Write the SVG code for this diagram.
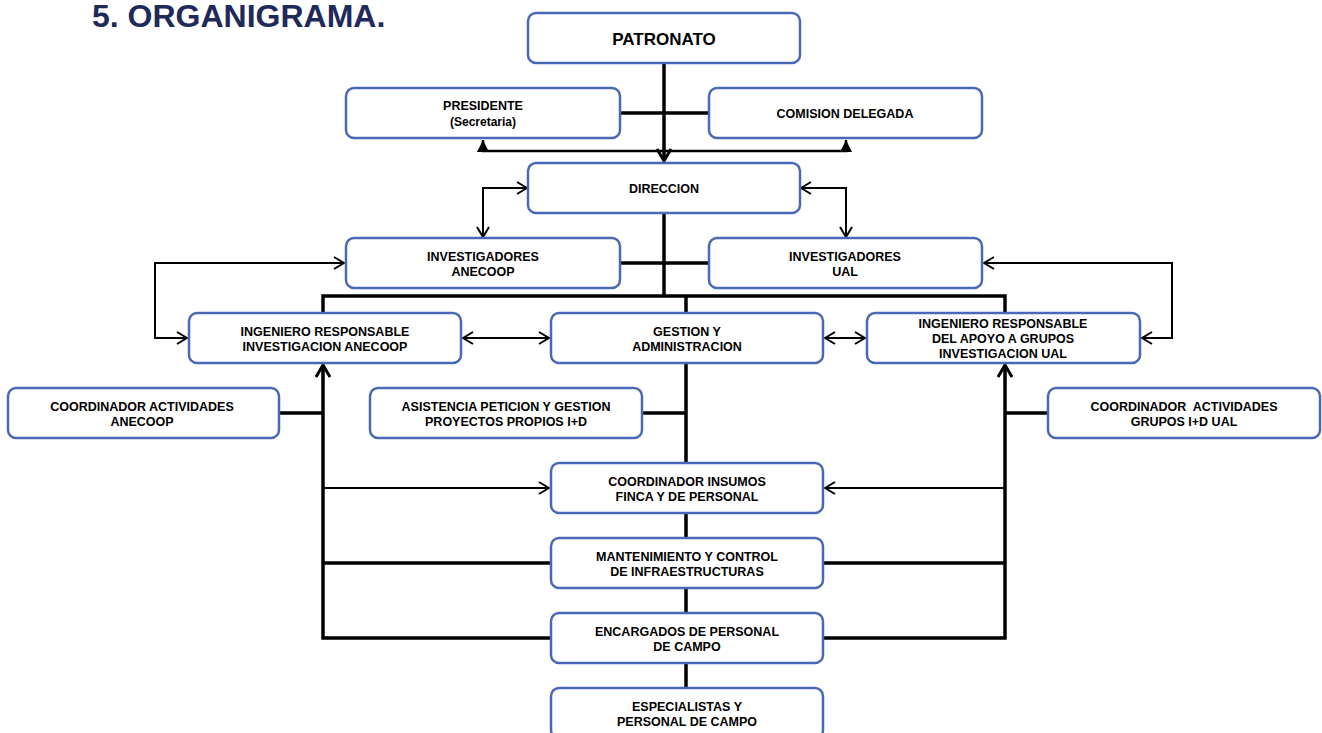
<svg xmlns="http://www.w3.org/2000/svg" width="1322" height="733" viewBox="0 0 1322 733">
<style>
.box{fill:#fff;stroke:#4a68b5;stroke-width:2.5}
.t{font-family:"Liberation Sans",Arial,sans-serif;font-size:12.5px;font-weight:bold;fill:#000;text-anchor:middle}
.thick{fill:none;stroke:#000;stroke-width:3.5}
.thin{fill:none;stroke:#000;stroke-width:2}
</style>
<defs>
<marker id="open" viewBox="0 0 12 14" refX="11" refY="7" markerWidth="12" markerHeight="14" markerUnits="userSpaceOnUse" orient="auto-start-reverse"><path d="M1,1 L11,7 L1,13" fill="none" stroke="#000" stroke-width="2"/></marker>
<marker id="tri" viewBox="0 0 12 12" refX="12" refY="6" markerWidth="12" markerHeight="12" markerUnits="userSpaceOnUse" orient="auto-start-reverse"><path d="M0,0 L12,6 L0,12 z" fill="#000"/></marker>
<marker id="bold" viewBox="0 0 14 16" refX="13" refY="8" markerWidth="14" markerHeight="16" markerUnits="userSpaceOnUse" orient="auto-start-reverse"><path d="M1,1 L13,8 L1,15" fill="none" stroke="#000" stroke-width="3"/></marker>
</defs>
<rect width="1322" height="733" fill="#fff"/>
<text x="92" y="27" font-family="'Liberation Sans',Arial,sans-serif" font-size="32" font-weight="bold" fill="#1f2a5a">5. ORGANIGRAMA.</text>

<g id="connectors">
<path class="thick" d="M664,63 V161" marker-end="url(#bold)"/>
<path class="thick" d="M620,113 H709"/>
<path class="thin" d="M483,140 V151 H846 V140" style="stroke-width:2.5" marker-start="url(#tri)" marker-end="url(#tri)"/>
<path class="thin" d="M527,188 H483 V237" marker-start="url(#open)" marker-end="url(#open)"/>
<path class="thin" d="M801,188 H846 V237" marker-start="url(#open)" marker-end="url(#open)"/>
<path class="thick" d="M664,213 V296"/>
<path class="thick" d="M620,263 H709"/>
<path class="thick" d="M323,313 V296 H1005 V313"/>
<path class="thick" d="M686,296 V313"/>
<path class="thick" d="M686,363 V688"/>
<path class="thick" d="M642,413 H686"/>
<path class="thick" d="M323,365 V638 H551" marker-start="url(#bold)"/>
<path class="thick" d="M323,563 H551"/>
<path class="thick" d="M279,413 H323"/>
<path class="thin" d="M323,488 H549" marker-end="url(#open)"/>
<path class="thick" d="M1005,365 V638 H823" marker-start="url(#bold)"/>
<path class="thick" d="M823,563 H1005"/>
<path class="thick" d="M1005,413 H1048"/>
<path class="thin" d="M1005,488 H825" marker-end="url(#open)"/>
<path class="thin" d="M463,338 H549" marker-start="url(#open)" marker-end="url(#open)"/>
<path class="thin" d="M825,338 H865" marker-start="url(#open)" marker-end="url(#open)"/>
<path class="thin" d="M344,263 H155 V338 H187" marker-start="url(#open)" marker-end="url(#open)"/>
<path class="thin" d="M984,263 H1172 V338 H1142" marker-start="url(#open)" marker-end="url(#open)"/>
</g>

<g id="patronato"><rect class="box" x="528" y="13" width="272" height="50" rx="8"/><text class="t" x="664" y="45" style="font-size:17px">PATRONATO</text></g>
<g id="presidente"><rect class="box" x="346" y="88" width="274" height="50" rx="8"/><text class="t" x="483" y="110">PRESIDENTE</text><text class="t" x="483" y="126" style="font-size:12px">(Secretaria)</text></g>
<g id="comision"><rect class="box" x="709" y="88" width="273" height="50" rx="8"/><text class="t" x="845" y="118">COMISION DELEGADA</text></g>
<g id="direccion"><rect class="box" x="528" y="163" width="272" height="50" rx="8"/><text class="t" x="664" y="193">DIRECCION</text></g>
<g id="inv-anecoop"><rect class="box" x="346" y="238" width="274" height="50" rx="8"/><text class="t" x="483" y="260.5">INVESTIGADORES</text><text class="t" x="483" y="275.5">ANECOOP</text></g>
<g id="inv-ual"><rect class="box" x="709" y="238" width="273" height="50" rx="8"/><text class="t" x="845" y="260.5">INVESTIGADORES</text><text class="t" x="845" y="275.5">UAL</text></g>
<g id="ing-anecoop"><rect class="box" x="189" y="313" width="272" height="50" rx="8"/><text class="t" x="325" y="335.5">INGENIERO RESPONSABLE</text><text class="t" x="325" y="350.5">INVESTIGACION ANECOOP</text></g>
<g id="gestion"><rect class="box" x="551" y="313" width="272" height="50" rx="8"/><text class="t" x="687" y="335.5">GESTION Y</text><text class="t" x="687" y="350.5">ADMINISTRACION</text></g>
<g id="ing-ual"><rect class="box" x="867" y="313" width="273" height="50" rx="8"/><text class="t" x="1003" y="327.5">INGENIERO RESPONSABLE</text><text class="t" x="1003" y="342.5">DEL APOYO A GRUPOS</text><text class="t" x="1003" y="357.5">INVESTIGACION UAL</text></g>
<g id="coord-anecoop"><rect class="box" x="8" y="388" width="271" height="50" rx="8"/><text class="t" x="142" y="410.5">COORDINADOR ACTIVIDADES</text><text class="t" x="142" y="425.5">ANECOOP</text></g>
<g id="asistencia"><rect class="box" x="370" y="388" width="272" height="50" rx="8"/><text class="t" x="506" y="410.5">ASISTENCIA PETICION Y GESTION</text><text class="t" x="506" y="425.5">PROYECTOS PROPIOS I+D</text></g>
<g id="coord-ual"><rect class="box" x="1048" y="388" width="272" height="50" rx="8"/><text class="t" x="1184" y="410.5" xml:space="preserve">COORDINADOR  ACTIVIDADES</text><text class="t" x="1184" y="425.5">GRUPOS I+D UAL</text></g>
<g id="coord-insumos"><rect class="box" x="551" y="463" width="272" height="50" rx="8"/><text class="t" x="687" y="485.5">COORDINADOR INSUMOS</text><text class="t" x="687" y="500.5">FINCA Y DE PERSONAL</text></g>
<g id="mantenimiento"><rect class="box" x="551" y="538" width="272" height="50" rx="8"/><text class="t" x="687" y="560.5">MANTENIMIENTO Y CONTROL</text><text class="t" x="687" y="575.5">DE INFRAESTRUCTURAS</text></g>
<g id="encargados"><rect class="box" x="551" y="613" width="272" height="50" rx="8"/><text class="t" x="687" y="635.5">ENCARGADOS DE PERSONAL</text><text class="t" x="687" y="650.5">DE CAMPO</text></g>
<g id="especialistas"><rect class="box" x="551" y="688" width="272" height="50" rx="8"/><text class="t" x="687" y="710.5">ESPECIALISTAS Y</text><text class="t" x="687" y="725.5">PERSONAL DE CAMPO</text></g>
</svg>
